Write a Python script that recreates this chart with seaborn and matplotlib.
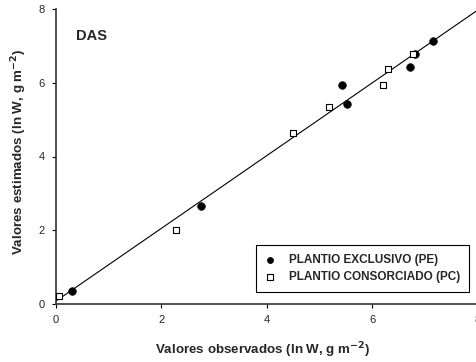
import numpy as np
import pandas as pd
import seaborn as sns
import matplotlib
matplotlib.use("Agg")
import matplotlib.pyplot as plt

# Data
pe_obs = [0.30, 2.74, 5.42, 5.51, 6.71, 6.80, 7.14]
pe_est = [0.36, 2.67, 5.95, 5.43, 6.43, 6.78, 7.14]
pc_obs = [0.06, 2.27, 4.49, 5.18, 6.19, 6.30, 6.76]
pc_est = [0.22, 2.00, 4.65, 5.34, 5.95, 6.37, 6.79]
line_x = [0.0, 8.0]
line_intercept = 0.08
line_slope = 0.987
labels = ["PLANTIO EXCLUSIVO (PE)", "PLANTIO CONSORCIADO (PC)"]
ticks = [0, 2, 4, 6, 8]

sns.set_theme(style="ticks")
plt.rcParams['font.family'] = ['Liberation Sans', 'DejaVu Sans']

fig = plt.figure(figsize=(4.77, 3.62), dpi=100)
ax = fig.add_axes([56/477, 58/362, 422/477, 295/362])

df_pe = pd.DataFrame({"obs": pe_obs, "est": pe_est})
df_pc = pd.DataFrame({"obs": pc_obs, "est": pc_est})
lx = np.array(line_x)
df_line = pd.DataFrame({"x": lx, "y": line_intercept + line_slope * lx})

sns.lineplot(data=df_line, x="x", y="y", ax=ax, color="black", lw=0.8)
sns.scatterplot(data=df_pe, x="obs", y="est", ax=ax, marker="o", s=30,
                color="black", edgecolor="black", linewidth=0.5, label=labels[0], zorder=3)
sns.scatterplot(data=df_pc, x="obs", y="est", ax=ax, marker="s", s=24,
                facecolor="white", edgecolor="black", linewidth=0.8, label=labels[1], zorder=3)

ax.set_xlim(0, 8)
ax.set_ylim(0, 8)
ax.set_xticks(ticks)
ax.set_yticks(ticks)
ax.tick_params(labelsize=8, length=3, width=0.8, color="black", pad=5)
for s in ["top", "right"]:
    ax.spines[s].set_visible(False)
for s in ["left", "bottom"]:
    ax.spines[s].set_color("#333333")
    ax.spines[s].set_linewidth(1.2)

ax.set_xlabel("Valores observados (ln W, g m$^{\\mathbf{-2}}$)", fontsize=9.6, fontweight="bold")
ax.set_ylabel("Valores estimados (ln W, g m$^{\\mathbf{-2}}$)", fontsize=9.6, fontweight="bold")
ax.xaxis.set_label_coords(0.489, -0.122)
ax.yaxis.set_label_coords(-0.064, 0.517)
ax.text(0.38, 7.15, "DAS", fontsize=10.5, fontweight="bold")

leg = ax.legend(loc="lower right", bbox_to_anchor=(0.979, 0.041), frameon=True, fancybox=False,
                edgecolor="black", framealpha=1, prop={"weight": "bold", "size": 8.5},
                handlelength=0.8, handletextpad=1.25, borderpad=0.75, labelspacing=0.4,
                markerscale=0.8, borderaxespad=0)
leg.get_frame().set_linewidth(0.8)

fig.savefig("out.png", dpi=100)
